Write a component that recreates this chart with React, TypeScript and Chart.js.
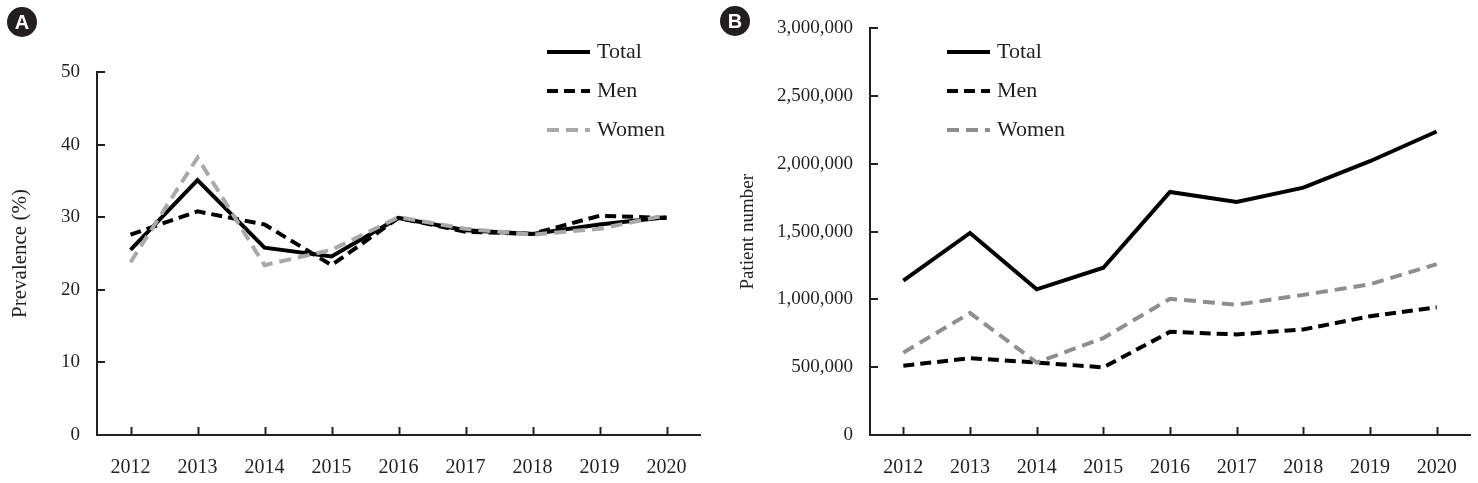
import React, { useEffect, useRef } from "react";
import { Chart, registerables } from "chart.js";

Chart.register(...registerables);

const years = ["2012", "2013", "2014", "2015", "2016", "2017", "2018", "2019", "2020"];
const seriesNames = ["Total", "Men", "Women"];

const prevalenceTotal = [25.5, 35.1, 25.8, 24.6, 29.9, 28.2, 27.7, 29.0, 30.0];
const prevalenceMen = [27.6, 30.8, 29.0, 23.4, 29.9, 28.0, 27.7, 30.2, 29.9];
const prevalenceWomen = [23.8, 38.2, 23.4, 25.5, 30.0, 28.4, 27.6, 28.4, 30.3];

const patientTotal = [1139000, 1491000, 1075000, 1234000, 1793000, 1720000, 1825000, 2020000, 2239000];
const patientMen = [511000, 567000, 535000, 499000, 761000, 742000, 779000, 876000, 942000];
const patientWomen = [608000, 900000, 535000, 715000, 1005000, 961000, 1034000, 1112000, 1261000];

const INK = "#231f20";
const FONT = "'Liberation Serif', 'Times New Roman', serif";

type PanelCfg = {
  width: number;
  height: number;
  yWidth: number;
  padTop: number;
  padRight: number;
  xHeight: number;
  yMax: number;
  yStep: number;
  yTitle: string;
  yTitleSize: number;
  yTitlePad: number;
  data: number[][];
  womenColor: string;
  legendX: number;
  format: (v: number) => string;
};

const inwardTicks = {
  id: "inwardTicks",
  afterDraw(chart: any) {
    const ctx = chart.ctx;
    const x = chart.scales.x;
    const y = chart.scales.y;
    const area = chart.chartArea;
    ctx.save();
    ctx.strokeStyle = INK;
    ctx.lineWidth = 2;
    ctx.setLineDash([]);
    const len = 8;
    x.ticks.forEach((_t: any, i: number) => {
      const px = Math.round(x.getPixelForTick(i)) + 0.5;
      ctx.beginPath();
      ctx.moveTo(px, area.bottom);
      ctx.lineTo(px, area.bottom - len);
      ctx.stroke();
    });
    y.ticks.forEach((_t: any, i: number) => {
      const py = Math.round(y.getPixelForTick(i));
      ctx.beginPath();
      ctx.moveTo(area.left, py);
      ctx.lineTo(area.left + len, py);
      ctx.stroke();
    });
    ctx.restore();
  },
};

const customLegend = {
  id: "customLegend",
  afterDraw(chart: any, _args: any, opts: any) {
    const ctx = chart.ctx;
    const rows = [52, 91, 130];
    ctx.save();
    chart.data.datasets.forEach((ds: any, i: number) => {
      const yy = rows[i];
      ctx.beginPath();
      ctx.strokeStyle = ds.borderColor;
      ctx.lineWidth = 4;
      ctx.setLineDash(ds.borderDash || []);
      ctx.moveTo(opts.x, yy);
      ctx.lineTo(opts.x + 43, yy);
      ctx.stroke();
      ctx.setLineDash([]);
      ctx.fillStyle = INK;
      ctx.font = `22px ${FONT}`;
      ctx.textBaseline = "middle";
      ctx.textAlign = "left";
      ctx.fillText(ds.label, opts.x + 50, yy);
    });
    ctx.restore();
  },
};

function Panel({ cfg, left }: { cfg: PanelCfg; left: number }) {
  const ref = useRef<HTMLCanvasElement | null>(null);
  useEffect(() => {
    if (!ref.current) return;
    const styles = [
      { color: "#000000", dash: [] as number[], order: 2 },
      { color: "#000000", dash: [11, 6], order: 1 },
      { color: cfg.womenColor, dash: [12, 7], order: 0 },
    ];
    const chart = new Chart(ref.current, {
      type: "line",
      data: {
        labels: years,
        datasets: cfg.data.map((d, i) => ({
          label: seriesNames[i],
          data: d,
          borderColor: styles[i].color,
          backgroundColor: styles[i].color,
          borderDash: styles[i].dash,
          borderWidth: 4,
          pointRadius: 0,
          tension: 0,
          fill: false,
          order: styles[i].order,
        })),
      },
      options: {
        animation: false,
        responsive: false,
        devicePixelRatio: 1,
        layout: { padding: { top: cfg.padTop, right: cfg.padRight, left: 0, bottom: 0 } },
        plugins: {
          legend: { display: false },
          tooltip: { enabled: false },
          customLegend: { x: cfg.legendX },
        } as any,
        scales: {
          x: {
            type: "category",
            offset: true,
            grid: { display: false, drawTicks: false },
            border: { display: true, color: INK, width: 2 },
            ticks: { color: INK, font: { family: FONT, size: 20 }, padding: 21, maxRotation: 0, autoSkip: false },
            afterFit: (s: any) => {
              s.height = cfg.xHeight;
            },
          },
          y: {
            min: 0,
            max: cfg.yMax,
            grid: { display: false, drawTicks: false },
            border: { display: true, color: INK, width: 2 },
            ticks: {
              stepSize: cfg.yStep,
              color: INK,
              font: { family: FONT, size: 19 },
              padding: 17,
              callback: (v: any) => cfg.format(Number(v)),
            },
            title: {
              display: true,
              text: cfg.yTitle,
              color: INK,
              font: { family: FONT, size: cfg.yTitleSize },
              padding: { top: cfg.yTitlePad, bottom: 0 },
            },
            afterFit: (s: any) => {
              s.width = cfg.yWidth;
            },
          },
        },
      },
      plugins: [inwardTicks, customLegend],
    });
    return () => chart.destroy();
  }, []);
  return (
    <canvas
      ref={ref}
      width={cfg.width}
      height={cfg.height}
      style={{ position: "absolute", left, top: 0, width: cfg.width, height: cfg.height }}
    />
  );
}

function Badge({ letter, cx, cy }: { letter: string; cx: number; cy: number }) {
  return (
    <div
      style={{
        position: "absolute",
        left: cx - 15,
        top: cy - 15,
        width: 30,
        height: 30,
        borderRadius: "50%",
        background: INK,
        color: "#fff",
        fontFamily: "'Liberation Sans', Arial, sans-serif",
        fontWeight: "bold",
        fontSize: 20,
        lineHeight: "30px",
        textAlign: "center",
      }}
    >
      {letter}
    </div>
  );
}

const panelA: PanelCfg = {
  width: 720,
  height: 483,
  yWidth: 97,
  padTop: 72,
  padRight: 20,
  xHeight: 48,
  yMax: 50,
  yStep: 10,
  yTitle: "Prevalence (%)",
  yTitleSize: 21,
  yTitlePad: 8,
  data: [prevalenceTotal, prevalenceMen, prevalenceWomen],
  womenColor: "#a9a9a9",
  legendX: 547,
  format: (v) => String(v),
};

const panelB: PanelCfg = {
  width: 758,
  height: 483,
  yWidth: 150,
  padTop: 24,
  padRight: 6,
  xHeight: 48,
  yMax: 3000000,
  yStep: 500000,
  yTitle: "Patient number",
  yTitleSize: 19,
  yTitlePad: 17,
  data: [patientTotal, patientMen, patientWomen],
  womenColor: "#8e8e8e",
  legendX: 947 - 720,
  format: (v) => v.toLocaleString("en-US"),
};

export default function App() {
  return (
    <div style={{ position: "absolute", left: 0, top: 0, width: 1478, height: 483, background: "#fff" }}>
      <Panel cfg={panelA} left={0} />
      <Panel cfg={panelB} left={720} />
      <Badge letter="A" cx={22} cy={22} />
      <Badge letter="B" cx={735} cy={21} />
    </div>
  );
}
